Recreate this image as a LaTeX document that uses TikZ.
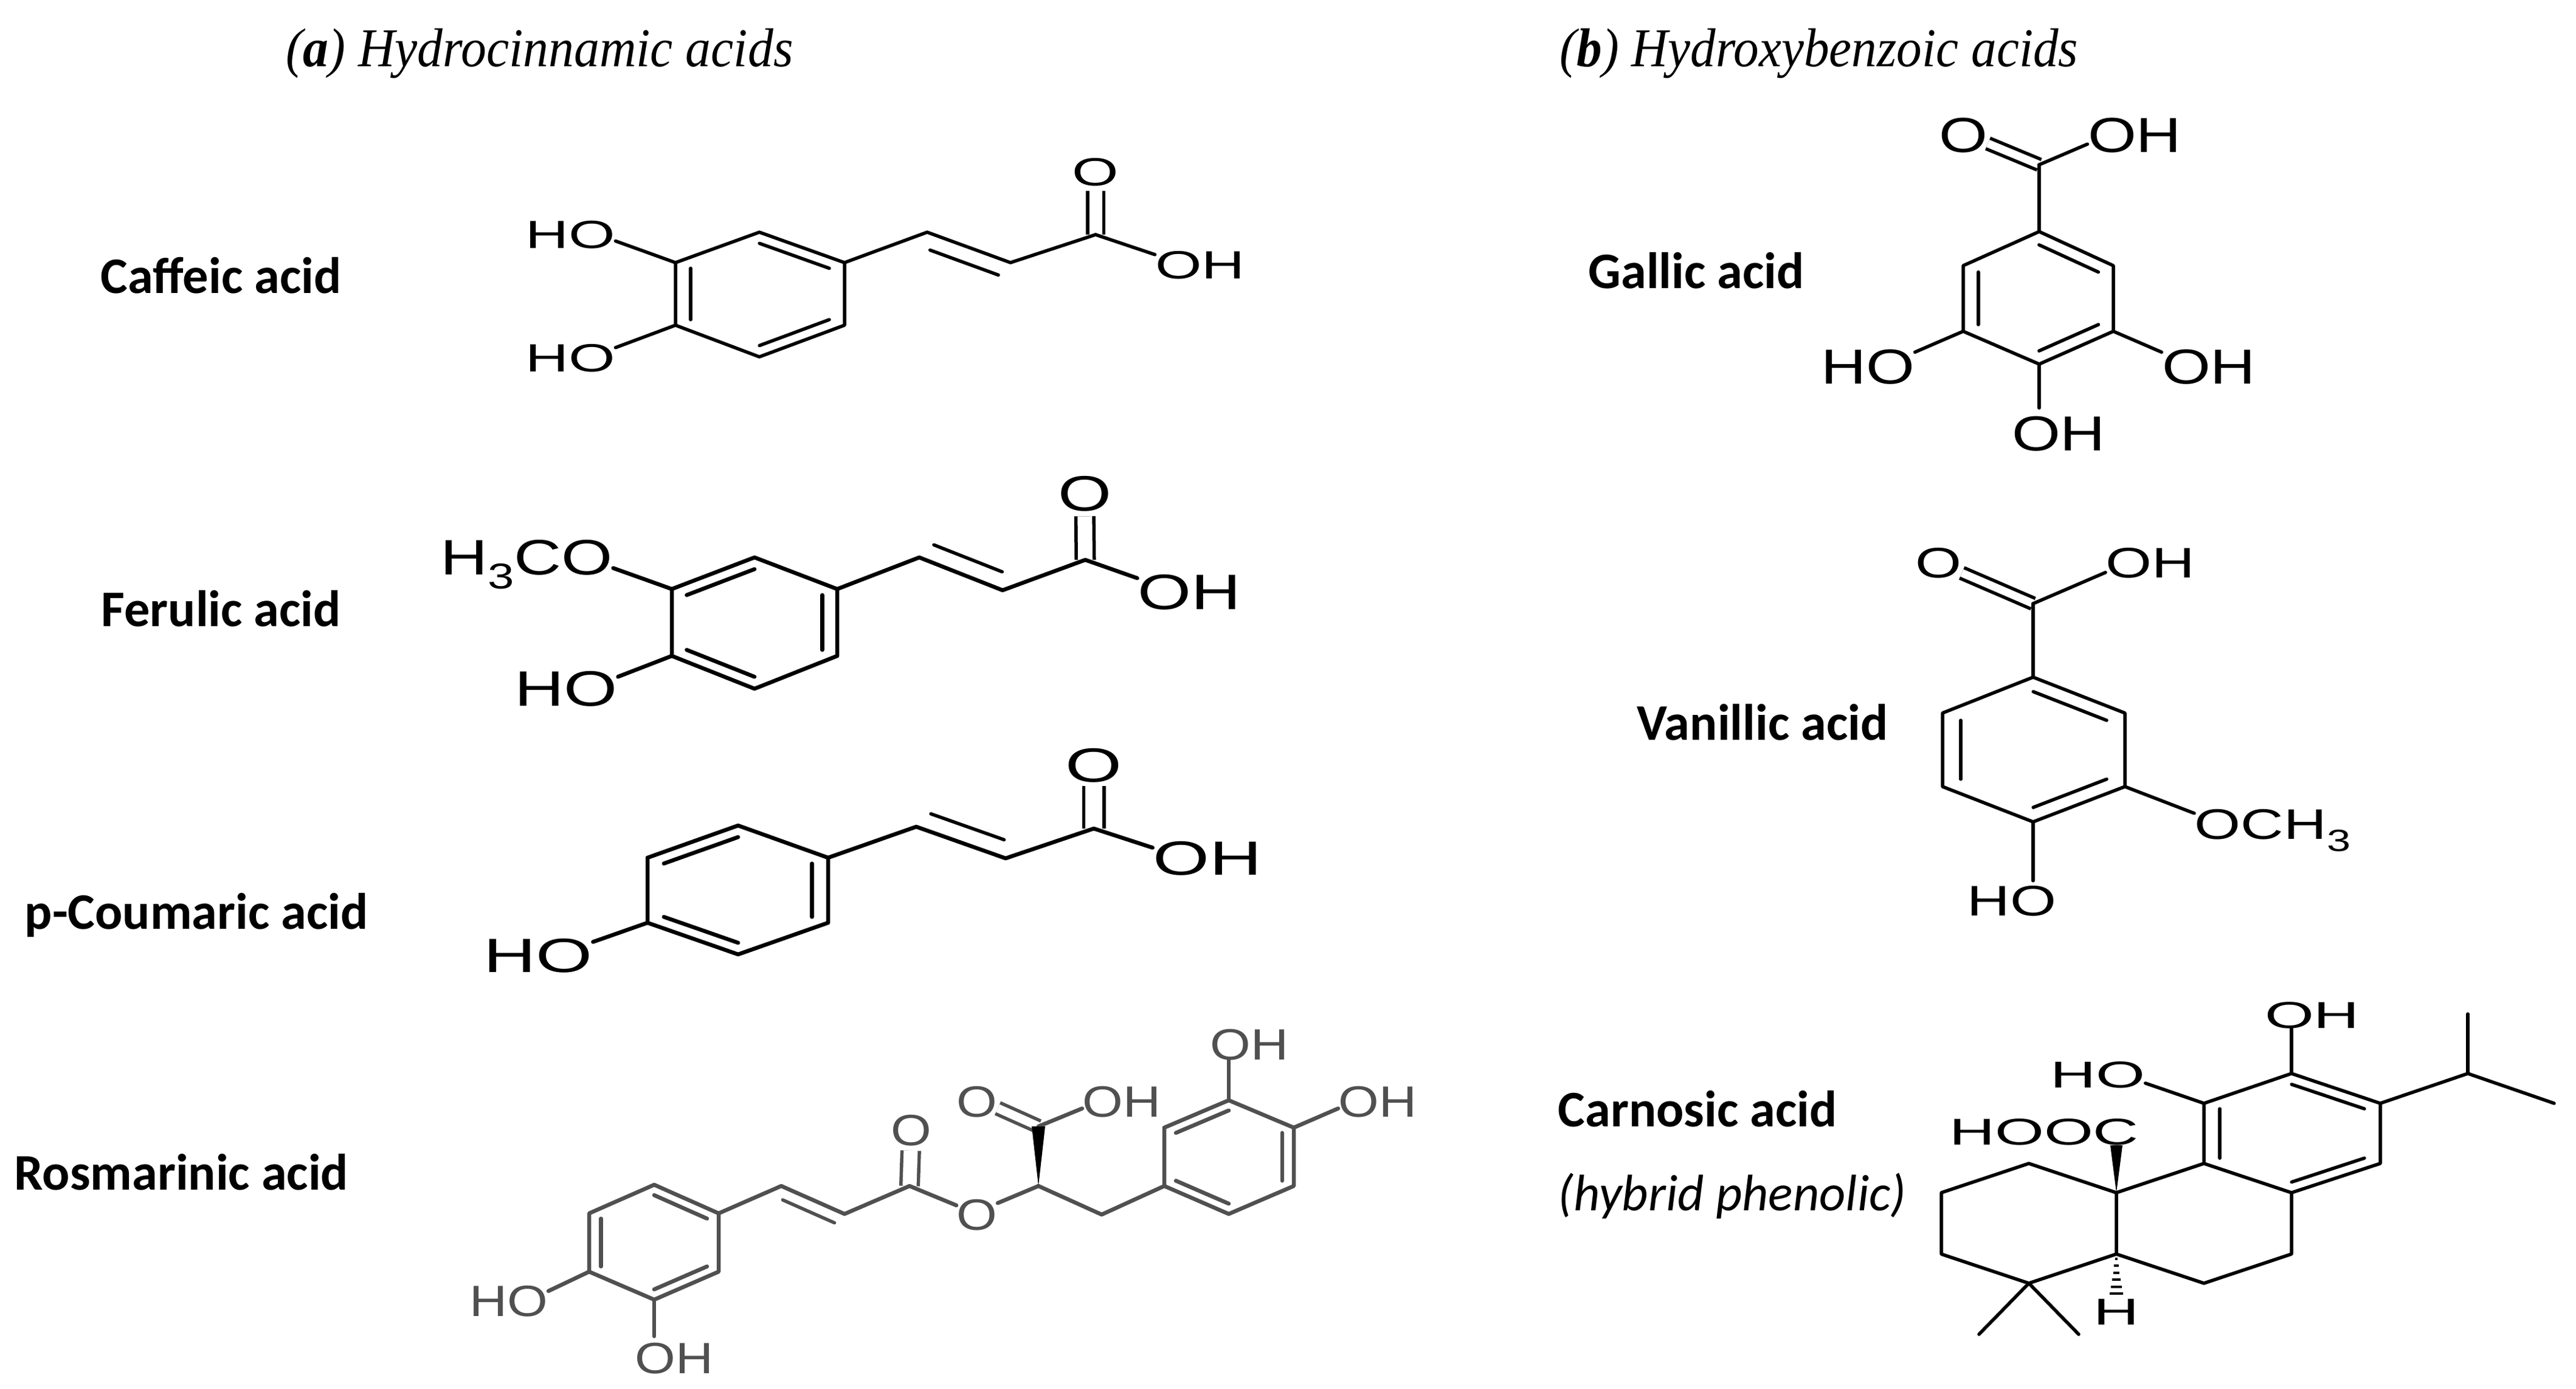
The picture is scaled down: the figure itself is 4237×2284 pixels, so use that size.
\documentclass[tikz,border=0pt]{standalone}
\usepackage{fontspec}
\usepackage{graphicx}
\setmainfont{Liberation Serif}
\setsansfont{Liberation Sans}
\newfontfamily\namefont{Carlito}
\usetikzlibrary{calc}

\definecolor{rosgrey}{HTML}{505050}
\newcommand{\atm}[2]{\scalebox{#1}[1]{#2}}
\newcommand{\subnum}[1]{\raisebox{-.28em}{\scalebox{.72}{#1}}}
\newcommand{\sidebond}[4]{\draw[bond] ($(#1)!.1!(#2)!#3!#4:(#2)$) -- ($(#2)!.08!(#1)!#3!-#4:(#1)$);}

\tikzset{
  bond/.style={line width=#1,line cap=round,line join=round},
  bond/.default={.055cm},
  cobond/.style={line width=.055cm,line cap=butt,double,double distance=#1},
  atom/.style={inner sep=0pt,text depth=0pt,font=\fontsize{#1}{#1}\selectfont\sffamily},
  acidname/.style={anchor=base west,inner sep=0pt,font=\fontsize{24}{24}\selectfont\namefont\bfseries},
  subname/.style={anchor=base west,inner sep=0pt,font=\fontsize{24}{24}\selectfont\namefont\itshape},
  grouptitle/.style={anchor=base west,inner sep=0pt,font=\fontsize{25.6}{25.6}\selectfont\itshape},
}

\begin{document}
\begin{tikzpicture}[x=.01cm,y=-.01cm]
  \useasboundingbox (0,0) rectangle (4237,2284);
  \path
  node[grouptitle] (title_a) at (470,109) {\atm{.93}{(\textbf{a}) Hydrocinnamic acids}}
  node[grouptitle] (title_b) at (2565,109) {\atm{.925}{(\textbf{b}) Hydroxybenzoic acids}}
  node[acidname] (name_ca) at (165,482) {Caffeic acid}
  node[acidname] (name_fe) at (166,1030) {Ferulic acid}
  node[acidname] (name_co) at (40,1528) {p-Coumaric acid}
  node[acidname] (name_ro) at (23,1957) {Rosmarinic acid}
  node[acidname] (name_ga) at (2612,474) {Gallic acid}
  node[acidname] (name_va) at (2692,1217) {Vanillic acid}
  node[acidname] (name_cn) at (2562,1853) {Carnosic acid}
  node[subname] (name_cn2) [at={(2562,1991)}] {(hybrid phenolic)}
  ;
  % caffeic acid
  \path
  coordinate (ca_1) at (1111,432) coordinate (ca_2) at (1249,382)
  coordinate (ca_3) at (1389,432) coordinate (ca_4) at (1389,535)
  coordinate (ca_5) at (1249,587) coordinate (ca_6) at (1111,535)
  coordinate (ca_c) at (1250,484) coordinate (ca_7) at (1525,382)
  coordinate (ca_8) at (1662,432) coordinate (ca_9) at (1802,386)
  node[atom=18.4pt] (ca_ho1) at (938,386) {\atm{1.52}{HO}}
  node[atom=18.4pt] (ca_ho2) at (938,589) {\atm{1.52}{HO}}
  node[atom=18.4pt] (ca_o) at (1802,283) {\atm{1.52}{O}}
  node[atom=18.4pt] (ca_oh) at (1974,436) {\atm{1.52}{OH}}
  ;
  \draw[cobond=.21cm,shorten >=.08cm] (ca_9) -- (ca_o);
  \draw[bond] (ca_1) -- (ca_2) -- (ca_3) -- (ca_4) -- (ca_5) -- (ca_6) -- cycle;
  \foreach \p/\q in {ca_2/ca_3,ca_1/ca_6,ca_4/ca_5}
    \draw[bond] ($(\p)!.18!(ca_c)$) -- ($(\q)!.18!(ca_c)$);
  \draw[bond] (ca_3) -- (ca_7) -- (ca_8) -- (ca_9);
  \sidebond{ca_7}{ca_8}{.26cm}{-90}
  \path[bond]
  (ca_1) edge (ca_ho1.-8)
  (ca_6) edge (ca_ho2.13)
  (ca_9) edge (ca_oh.167)
  ;
  % ferulic acid
  \path
  coordinate (fe_1) at (1105,969) coordinate (fe_2) at (1241,917)
  coordinate (fe_3) at (1377,969) coordinate (fe_4) at (1377,1079)
  coordinate (fe_5) at (1241,1133) coordinate (fe_6) at (1105,1079)
  coordinate (fe_c) at (1241,1024) coordinate (fe_7) at (1512,917)
  coordinate (fe_8) at (1649,971) coordinate (fe_9) at (1785,921)
  node[atom=23.3pt] (fe_meo) at (866,917) {\atm{1.32}{H\subnum{3}CO}}
  node[atom=23.3pt] (fe_ho) at (931,1133) {\atm{1.38}{HO}}
  node[atom=23.3pt] (fe_o) at (1784,812) {\atm{1.38}{O}}
  node[atom=23.3pt] (fe_oh) at (1956,974) {\atm{1.38}{OH}}
  ;
  \draw[cobond=.24cm,shorten >=.08cm] (fe_9) -- (fe_o);
  \draw[bond=.065cm] (fe_1) -- (fe_2) -- (fe_3) -- (fe_4) -- (fe_5) -- (fe_6) -- cycle;
  \foreach \p/\q in {fe_1/fe_2,fe_3/fe_4,fe_5/fe_6}
    \draw[bond=.065cm] ($(\p)!.18!(fe_c)$) -- ($(\q)!.18!(fe_c)$);
  \draw[bond=.065cm] (fe_3) -- (fe_7) -- (fe_8) -- (fe_9);
  \sidebond{fe_7}{fe_8}{.28cm}{90}
  \path[bond=.065cm]
  (fe_1) edge (fe_meo.-7)
  (fe_6) edge (fe_ho.13)
  (fe_9) edge (fe_oh.165)
  ;
  % p-coumaric acid
  \path
  coordinate (co_1) at (1065,1411) coordinate (co_2) at (1214,1358)
  coordinate (co_3) at (1362,1411) coordinate (co_4) at (1362,1518)
  coordinate (co_5) at (1214,1570) coordinate (co_6) at (1065,1518)
  coordinate (co_c) at (1214,1464) coordinate (co_7) at (1507,1360)
  coordinate (co_8) at (1654,1412) coordinate (co_9) at (1799,1363)
  node[atom=22.5pt] (co_ho) at (885,1572) {\atm{1.51}{HO}}
  node[atom=22.5pt] (co_o) at (1799,1259) {\atm{1.51}{O}}
  node[atom=22.5pt] (co_oh) at (1986,1412) {\atm{1.51}{OH}}
  ;
  \draw[cobond=.28cm,shorten >=.06cm] (co_9) -- (co_o);
  \draw[bond=.065cm] (co_1) -- (co_2) -- (co_3) -- (co_4) -- (co_5) -- (co_6) -- cycle;
  \foreach \p/\q in {co_1/co_2,co_3/co_4,co_5/co_6}
    \draw[bond=.065cm] ($(\p)!.18!(co_c)$) -- ($(\q)!.18!(co_c)$);
  \draw[bond=.065cm] (co_3) -- (co_7) -- (co_8) -- (co_9);
  \sidebond{co_7}{co_8}{.28cm}{90}
  \path[bond=.065cm]
  (co_6) edge (co_ho.14)
  (co_9) edge (co_oh.169)
  ;
  % rosmarinic acid
  \begin{scope}[rosgrey]
  \path
  coordinate (ro_1) at (969,1996) coordinate (ro_2) at (1076,1949)
  coordinate (ro_3) at (1182,1996) coordinate (ro_4) at (1182,2092)
  coordinate (ro_5) at (1076,2138) coordinate (ro_6) at (969,2092)
  coordinate (ro_c) at (1076,2044) coordinate (ro_7) at (1285,1951)
  coordinate (ro_8) at (1389,1997) coordinate (ro_9) at (1496,1951)
  coordinate (ro_10) at (1708,1951) coordinate (ro_11) at (1708,1853)
  coordinate (ro_12) at (1812,1998)
  coordinate (ro_13) at (1915,1951) coordinate (ro_14) at (1915,1855)
  coordinate (ro_15) at (2021,1810) coordinate (ro_16) at (2128,1855)
  coordinate (ro_17) at (2128,1951) coordinate (ro_18) at (2021,1997)
  coordinate (ro_d) at (2021,1903)
  node[atom=20.5pt,text=rosgrey] (ro_ho1) at (837,2140) {\atm{1.19}{HO}}
  node[atom=20.5pt,text=rosgrey] (ro_oh1) at (1109,2234) {\atm{1.19}{OH}}
  node[atom=20.5pt,text=rosgrey] (ro_o1) at (1499,1859) {\atm{1.19}{O}}
  node[atom=20.5pt,text=rosgrey] (ro_o2) at (1607,1998) {\atm{1.19}{O}}
  node[atom=20.5pt,text=rosgrey] (ro_o3) at (1607,1812) {\atm{1.19}{O}}
  node[atom=20.5pt,text=rosgrey] (ro_oh2) at (1845,1812) {\atm{1.19}{OH}}
  node[atom=20.5pt,text=rosgrey] (ro_oh3) at (2055,1718) {\atm{1.19}{OH}}
  node[atom=20.5pt,text=rosgrey] (ro_oh4) at (2266,1812) {\atm{1.19}{OH}}
  ;
  \draw[cobond=.23cm,shorten >=.08cm] (ro_9) -- (ro_o1);
  \draw[cobond=.14cm] (ro_11) -- (ro_o3.-18);
  \draw[bond=.065cm] (ro_1) -- (ro_2) -- (ro_3) -- (ro_4) -- (ro_5) -- (ro_6) -- cycle;
  \foreach \p/\q in {ro_2/ro_3,ro_1/ro_6,ro_4/ro_5}
    \draw[bond=.065cm] ($(\p)!.18!(ro_c)$) -- ($(\q)!.18!(ro_c)$);
  \draw[bond=.065cm] (ro_13) -- (ro_14) -- (ro_15) -- (ro_16) -- (ro_17) -- (ro_18) -- cycle;
  \foreach \p/\q in {ro_14/ro_15,ro_16/ro_17,ro_13/ro_18}
    \draw[bond=.065cm] ($(\p)!.18!(ro_d)$) -- ($(\q)!.18!(ro_d)$);
  \draw[bond=.065cm] (ro_3) -- (ro_7) -- (ro_8) -- (ro_9);
  \sidebond{ro_7}{ro_8}{.2cm}{-90}
  \draw[bond=.065cm] (ro_10) -- (ro_12) -- (ro_13);
  \path[bond=.065cm]
  (ro_6) edge (ro_ho1.14)
  (ro_9) edge (ro_o2.156)
  (ro_10) edge (ro_o2.29)
  (ro_11) edge (ro_oh2.190)
  (ro_16) edge (ro_oh4.190)
  ;
  \draw[bond=.065cm,shorten >=.1cm] (ro_5) -- (ro_oh1.north -| ro_5);
  \draw[bond=.065cm] (ro_15) -- (ro_oh3.south -| ro_15);
  \fill[black] (ro_10) -- ($(ro_11)+(-11,0)$) -- ($(ro_11)+(11,0)$) -- cycle;
  \end{scope}
  % gallic acid
  \path
  coordinate (ga_1) at (3354,381) coordinate (ga_2) at (3476,437)
  coordinate (ga_3) at (3476,545) coordinate (ga_4) at (3354,599)
  coordinate (ga_5) at (3229,545) coordinate (ga_6) at (3229,437)
  coordinate (ga_c) at (3353,490) coordinate (ga_7) at (3354,271)
  node[atom=23pt] (ga_o) at (3229,222) {\atm{1.27}{O}}
  node[atom=23pt] (ga_oh1) at (3511,222) {\atm{1.27}{OH}}
  node[atom=23pt] (ga_ho) at (3072,603) {\atm{1.27}{HO}}
  node[atom=23pt] (ga_oh2) at (3633,603) {\atm{1.27}{OH}}
  node[atom=23pt] (ga_oh3) at (3386,713) {\atm{1.27}{OH}}
  ;
  \draw[cobond=.13cm] (ga_7) -- (ga_o.-19);
  \draw[bond] (ga_1) -- (ga_2) -- (ga_3) -- (ga_4) -- (ga_5) -- (ga_6) -- cycle;
  \foreach \p/\q in {ga_1/ga_2,ga_3/ga_4,ga_5/ga_6}
    \draw[bond] ($(\p)!.2!(ga_c)$) -- ($(\q)!.2!(ga_c)$);
  \path[bond]
  (ga_1) edge (ga_7)
  (ga_7) edge (ga_oh1.191)
  (ga_5) edge (ga_ho.17)
  (ga_3) edge (ga_oh2.163)
  ;
  \draw[bond,shorten >=.13cm] (ga_4) -- (ga_oh3.north -| ga_4);
  % vanillic acid
  \path
  coordinate (va_1) at (3344,1114) coordinate (va_2) at (3495,1173)
  coordinate (va_3) at (3495,1294) coordinate (va_4) at (3344,1352)
  coordinate (va_5) at (3195,1294) coordinate (va_6) at (3195,1173)
  coordinate (va_c) at (3345,1233) coordinate (va_7) at (3344,993)
  node[atom=20pt] (va_o) at (3188,926) {\atm{1.39}{O}}
  node[atom=20pt] (va_oh) at (3537,926) {\atm{1.39}{OH}}
  node[atom=20pt] (va_och) at (3738,1356) {\atm{1.39}{OCH\subnum{3}}}
  node[atom=20pt] (va_ho) at (3309,1482) {\atm{1.39}{HO}}
  ;
  \draw[cobond=.13cm] (va_7) -- (va_o.-23);
  \draw[bond] (va_1) -- (va_2) -- (va_3) -- (va_4) -- (va_5) -- (va_6) -- cycle;
  \foreach \p/\q in {va_1/va_2,va_3/va_4,va_5/va_6}
    \draw[bond] ($(\p)!.2!(va_c)$) -- ($(\q)!.2!(va_c)$);
  \path[bond]
  (va_1) edge (va_7)
  (va_7) edge (va_oh.192)
  (va_3) edge (va_och.172)
  ;
  \draw[bond,shorten >=.08cm] (va_4) -- (va_ho.north -| va_4);
  % carnosic acid
  \path
  coordinate (cn_1) at (3625,1815) coordinate (cn_2) at (3769,1766)
  coordinate (cn_3) at (3915,1815) coordinate (cn_4) at (3915,1914)
  coordinate (cn_5) at (3769,1962) coordinate (cn_6) at (3625,1914)
  coordinate (cn_c) at (3770,1865) coordinate (cn_7) at (3481,1962)
  coordinate (cn_8) at (3481,2063) coordinate (cn_9) at (3625,2111)
  coordinate (cn_10) at (3769,2063) coordinate (cn_11) at (3337,1914)
  coordinate (cn_12) at (3193,1962) coordinate (cn_13) at (3193,2063)
  coordinate (cn_14) at (3337,2111) coordinate (cn_15) at (3255,2195)
  coordinate (cn_16) at (3419,2195) coordinate (cn_17) at (4059,1766)
  coordinate (cn_18) at (4059,1668) coordinate (cn_19) at (4201,1815)
  node[atom=17.5pt] (cn_oh) at (3803,1670) {\atm{1.69}{OH}}
  node[atom=17.5pt] (cn_ho) at (3450,1768) {\atm{1.69}{HO}}
  node[atom=17.5pt] (cn_hooc) at (3362,1862) {\atm{1.69}{HOOC}}
  node[atom=17.5pt] (cn_h) at (3481,2158) {\atm{1.69}{H}}
  ;
  \draw[bond] (cn_1) -- (cn_2) -- (cn_3) -- (cn_4) -- (cn_5) -- (cn_6) -- cycle;
  \foreach \p/\q in {cn_2/cn_3,cn_1/cn_6,cn_4/cn_5}
    \draw[bond] ($(\p)!.18!(cn_c)$) -- ($(\q)!.18!(cn_c)$);
  \draw[bond] (cn_6) -- (cn_7) -- (cn_8) -- (cn_9) -- (cn_10) -- (cn_5);
  \draw[bond] (cn_7) -- (cn_11) -- (cn_12) -- (cn_13) -- (cn_14) -- (cn_8);
  \path[bond]
  (cn_14) edge (cn_15)
  (cn_14) edge (cn_16)
  (cn_3) edge (cn_17)
  (cn_17) edge (cn_18)
  (cn_17) edge (cn_19)
  (cn_1) edge (cn_ho.-10)
  ;
  \draw[bond] (cn_2) -- (cn_oh.south -| cn_2);
  \fill (cn_7) -- ($(cn_hooc.south -| cn_7)+(-10,0)$) -- ($(cn_hooc.south -| cn_7)+(10,0)$) -- cycle;
  \foreach \i in {1,...,6}
    \draw[line width=.04cm] ($(cn_8)+({-1.8*\i},{11.5*\i-4})$) -- ($(cn_8)+({1.8*\i},{11.5*\i-4})$);
\end{tikzpicture}
\end{document}
